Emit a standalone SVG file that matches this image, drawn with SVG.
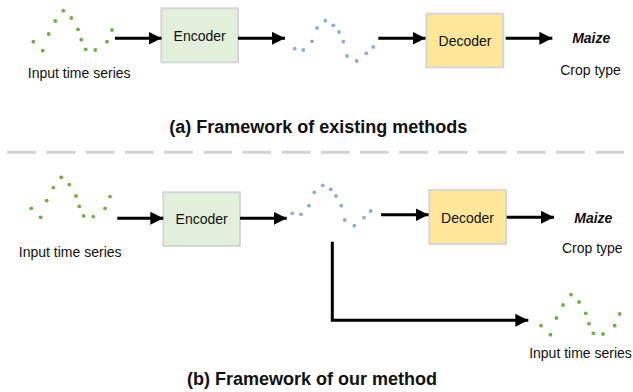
<svg xmlns="http://www.w3.org/2000/svg" width="633" height="392" viewBox="0 0 633 392">
  <style>
    text { font-family: "Liberation Sans", Arial, sans-serif; fill: #111; }
    .lbl { font-size: 14px; text-anchor: middle; }
    .title { font-size: 18px; font-weight: bold; text-anchor: middle; }
    .maize { font-size: 14px; font-weight: bold; font-style: italic; text-anchor: middle; }
    .g use { fill: #70ad47; }
    .b circle { fill: #8faadc; }
    .enc { fill: #e2efda; stroke: #d6d6d6; stroke-width: 2; }
    .dec { fill: #ffe699; stroke: #d6d6d6; stroke-width: 2; }
    .conn { stroke: #000; stroke-width: 3; fill: none; }
  </style>
  <defs>
    <marker id="ah" markerUnits="userSpaceOnUse" markerWidth="14" markerHeight="14" refX="13" refY="6.5" orient="auto">
      <path d="M0,0 L13,6.5 L0,13 Z" fill="#000"/>
    </marker>
    <g id="gwave">
      <circle cx="0" cy="0" r="1.9"/>
      <circle cx="9.4" cy="9" r="1.9"/>
      <circle cx="15.4" cy="-7.7" r="1.9"/>
      <circle cx="22" cy="-20.7" r="1.9"/>
      <circle cx="30" cy="-31" r="1.9"/>
      <circle cx="38" cy="-23.7" r="1.9"/>
      <circle cx="44.7" cy="-12.4" r="1.9"/>
      <circle cx="48" cy="-2" r="1.9"/>
      <circle cx="52.4" cy="7.6" r="1.9"/>
      <circle cx="62" cy="8.3" r="1.9"/>
      <circle cx="73.7" cy="0" r="1.9"/>
      <circle cx="78.7" cy="-11.7" r="1.9"/>
    </g>
  </defs>

  <!-- (a) -->
  <g id="input-a" class="g">
    <use href="#gwave" x="33.3" y="41.7"/>
    <text class="lbl" x="79.2" y="78.3">Input time series</text>
  </g>
  <g id="encoder-a">
    <rect class="enc" x="161.3" y="8.3" width="76.7" height="54"/>
    <text class="lbl" x="199.7" y="41">Encoder</text>
  </g>
  <g id="features-a" class="b">
    <circle cx="294.7" cy="48.7" r="1.9"/>
    <circle cx="303.3" cy="50" r="1.9"/>
    <circle cx="312" cy="41.3" r="1.9"/>
    <circle cx="317" cy="28" r="1.9"/>
    <circle cx="325.3" cy="20.7" r="1.9"/>
    <circle cx="333.3" cy="25.3" r="1.9"/>
    <circle cx="339" cy="32" r="1.9"/>
    <circle cx="343.3" cy="41.7" r="1.9"/>
    <circle cx="347" cy="56" r="1.9"/>
    <circle cx="356.7" cy="61" r="1.9"/>
    <circle cx="366.3" cy="53.3" r="1.9"/>
    <circle cx="373.3" cy="47" r="1.9"/>
  </g>
  <g id="decoder-a">
    <rect class="dec" x="426.3" y="13.7" width="77" height="53.6"/>
    <text class="lbl" x="465" y="46">Decoder</text>
  </g>
  <g id="output-a">
    <text class="maize" x="591.2" y="43.3">Maize</text>
    <text class="lbl" x="590.5" y="75">Crop type</text>
  </g>
  <text class="title" x="318.3" y="132.7">(a) Framework of existing methods</text>

  <line x1="7.3" y1="152.3" x2="633" y2="152.3" stroke="#d3d3d3" stroke-width="3" stroke-dasharray="28.7 10.5"/>

  <!-- (b) -->
  <g id="input-b" class="g">
    <use href="#gwave" x="31.3" y="208.3"/>
    <text class="lbl" x="70.2" y="257.3">Input time series</text>
  </g>
  <g id="encoder-b">
    <rect class="enc" x="163.3" y="192.3" width="76.7" height="53.7"/>
    <text class="lbl" x="201.7" y="224.3">Encoder</text>
  </g>
  <g id="features-b" class="b">
    <circle cx="292.3" cy="213.3" r="1.9"/>
    <circle cx="301" cy="214.3" r="1.9"/>
    <circle cx="309" cy="205.7" r="1.9"/>
    <circle cx="314.3" cy="192.3" r="1.9"/>
    <circle cx="322.7" cy="185.3" r="1.9"/>
    <circle cx="330.7" cy="189.3" r="1.9"/>
    <circle cx="336" cy="196" r="1.9"/>
    <circle cx="341.3" cy="205.7" r="1.9"/>
    <circle cx="344.7" cy="220" r="1.9"/>
    <circle cx="354.3" cy="225.7" r="1.9"/>
    <circle cx="364" cy="217.7" r="1.9"/>
    <circle cx="370.7" cy="211" r="1.9"/>
  </g>
  <g id="decoder-b">
    <rect class="dec" x="429.3" y="190" width="76.7" height="54"/>
    <text class="lbl" x="467.5" y="223.3">Decoder</text>
  </g>
  <g id="output-b">
    <text class="maize" x="593.3" y="223.3">Maize</text>
    <text class="lbl" x="592.3" y="253.3">Crop type</text>
  </g>
  <g id="recon-b" class="g">
    <use href="#gwave" x="541" y="325.7"/>
    <text class="lbl" x="580.5" y="357.7">Input time series</text>
  </g>
  <text class="title" x="312" y="385">(b) Framework of our method</text>

  <g id="connectors">
    <line class="conn" x1="115" y1="38.3" x2="161.5" y2="38.3" marker-end="url(#ah)"/>
    <line class="conn" x1="238" y1="38.3" x2="285" y2="38.3" marker-end="url(#ah)"/>
    <line class="conn" x1="378.3" y1="38.3" x2="425.5" y2="38.3" marker-end="url(#ah)"/>
    <line class="conn" x1="505.7" y1="38.3" x2="552.3" y2="38.3" marker-end="url(#ah)"/>
    <line class="conn" x1="117.3" y1="218.3" x2="163.3" y2="218.3" marker-end="url(#ah)"/>
    <line class="conn" x1="240" y1="218.3" x2="286.7" y2="218.3" marker-end="url(#ah)"/>
    <line class="conn" x1="381" y1="214.7" x2="428.5" y2="214.7" marker-end="url(#ah)"/>
    <line class="conn" x1="506.7" y1="217.3" x2="554" y2="217.3" marker-end="url(#ah)"/>
    <polyline class="conn" points="332.3,241.7 332.3,320.3 528.3,320.3" marker-end="url(#ah)"/>
  </g>
</svg>
